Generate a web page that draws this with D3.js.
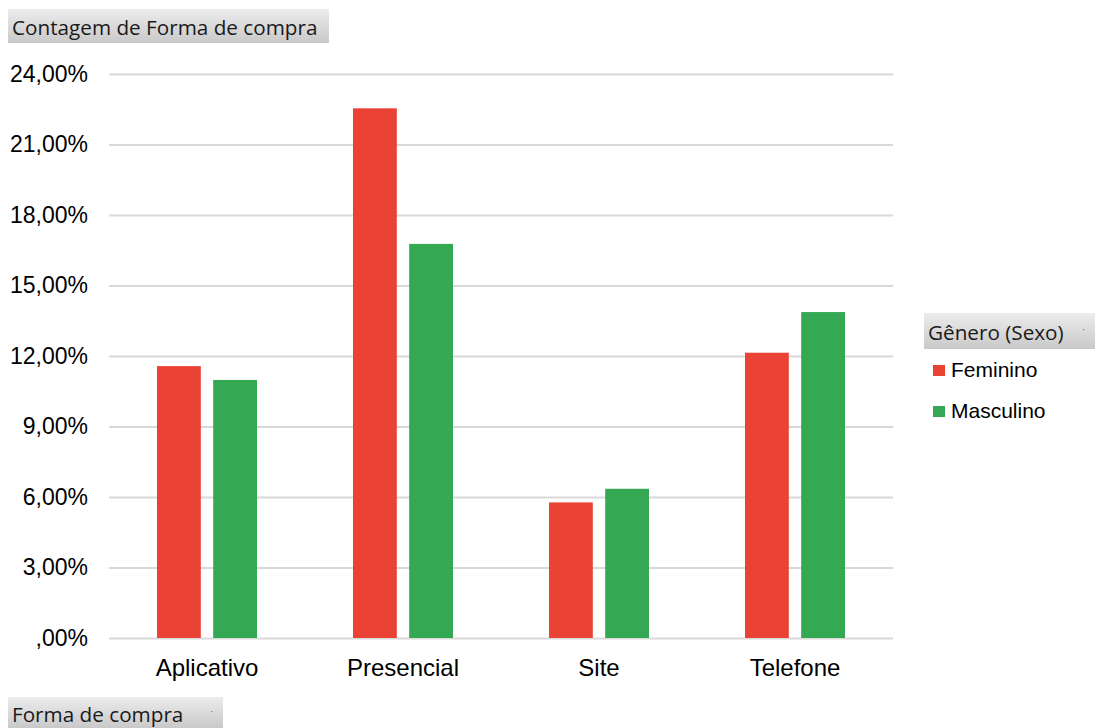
<!DOCTYPE html>
<html lang="pt">
<head>
<meta charset="utf-8">
<title>Contagem de Forma de compra</title>
<script src="https://d3js.org/d3.v7.min.js"></script>
<style>
  body { margin: 0; background: #fff; }
</style>
</head>
<body>
<script>
// Dados
const categorias = ["Aplicativo", "Presencial", "Site", "Telefone"];
const generos = ["Feminino", "Masculino"];
const feminino = [11.57, 22.54, 5.77, 12.14];
const masculino = [10.98, 16.77, 6.35, 13.87];
const ticksY = [0, 3, 6, 9, 12, 15, 18, 21, 24];
const cores = ["#EA4335", "#34A853"];

const width = 1095, height = 728;
const marginLeft = 109, marginRight = 202, marginTop = 74, marginBottom = 90;

const svg = d3.select("body").append("svg")
  .attr("width", width)
  .attr("height", height)
  .attr("viewBox", [0, 0, width, height])
  .style("font-family", "'Liberation Sans', Arial, sans-serif");

const defs = svg.append("defs");
const grad = defs.append("linearGradient")
  .attr("id", "btn").attr("x1", 0).attr("y1", 0).attr("x2", 0).attr("y2", 1);
grad.append("stop").attr("offset", "0%").attr("stop-color", "#ececec");
grad.append("stop").attr("offset", "100%").attr("stop-color", "#c9c9c9");

const x = d3.scaleBand()
  .domain(categorias)
  .range([marginLeft, width - marginRight])
  .paddingInner(0)
  .paddingOuter(0);

const xs = d3.scaleBand()
  .domain(generos)
  .range([48, x.bandwidth() - 48])
  .paddingInner(0.22);

const y = d3.scaleLinear()
  .domain([0, 24])
  .range([height - marginBottom, marginTop]);

// Linhas de grade e eixo Y
svg.append("g")
  .attr("transform", `translate(${marginLeft},0)`)
  .call(d3.axisLeft(y).tickValues(ticksY)
    .tickSize(-(width - marginRight - marginLeft))
    .tickPadding(21)
    .tickFormat(d => (d === 0 ? "" : d3.format("d")(d)) + ",00%"))
  .call(g => g.select(".domain").remove())
  .call(g => g.selectAll(".tick line").attr("stroke", "#d9d9d9").attr("stroke-width", 2))
  .call(g => g.selectAll(".tick text").attr("fill", "#000").style("font-size", "23px"));

// Barras
const dados = categorias.map((c, i) => ({ categoria: c, valores: [feminino[i], masculino[i]] }));

svg.append("g")
  .selectAll("g")
  .data(dados)
  .join("g")
  .attr("transform", d => `translate(${x(d.categoria)},0)`)
  .selectAll("rect")
  .data(d => d.valores.map((v, j) => ({ genero: generos[j], valor: v, j })))
  .join("rect")
  .attr("x", d => xs(d.genero))
  .attr("y", d => y(d.valor))
  .attr("width", xs.bandwidth())
  .attr("height", d => y(0) - y(d.valor))
  .attr("fill", d => cores[d.j]);

// Eixo X (rótulos)
svg.append("g")
  .attr("transform", `translate(0,${height - marginBottom})`)
  .call(d3.axisBottom(x).tickSize(0).tickPadding(21))
  .call(g => g.select(".domain").remove())
  .call(g => g.selectAll(".tick text").attr("fill", "#000").style("font-size", "24px"));

// Botões do campo dinâmico
function botao(bx, by, bw, bh, base, texto, seta) {
  const g = svg.append("g").attr("transform", `translate(${bx},${by})`);
  g.append("rect").attr("width", bw).attr("height", bh).attr("fill", "url(#btn)");
  g.append("text")
    .attr("x", 4).attr("y", base)
    .style("font-family", "'Open Sans', 'DejaVu Sans', sans-serif")
    .style("font-size", "20.7px")
    .attr("fill", "#1a1a1a")
    .text(texto);
  if (seta) {
    g.append("text")
      .attr("x", bw - 13).attr("y", bh / 2 + 2)
      .style("font-size", "10px")
      .attr("fill", "#666")
      .text("·");
  }
}

botao(8, 9, 321, 34, 26, "Contagem de Forma de compra", false);
botao(924, 313, 171, 36, 27, "Gênero (Sexo)", true);
botao(8, 697, 215, 31, 25, "Forma de compra", true);

// Legenda
const legenda = svg.append("g").attr("transform", "translate(933,365)");
legenda.selectAll("g")
  .data(generos)
  .join("g")
  .attr("transform", (d, i) => `translate(0,${i * 41})`)
  .call(g => g.append("rect").attr("width", 12).attr("height", 11).attr("fill", (d, i) => cores[i]))
  .call(g => g.append("text").attr("x", 18).attr("y", 11.5)
    .style("font-size", "21px").attr("fill", "#000").text(d => d));
</script>
</body>
</html>
